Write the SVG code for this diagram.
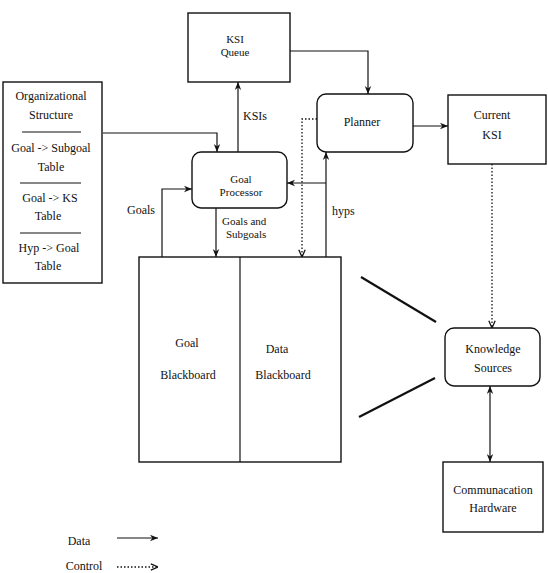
<svg xmlns="http://www.w3.org/2000/svg" width="548" height="573" viewBox="0 0 548 573">
<style>
  text { font-family: "Liberation Serif", "Times New Roman", serif; font-size: 12px; fill: #111; text-anchor: middle; }
  .tight { font-size: 11px; }
  .box { fill: #fff; stroke: #111; stroke-width: 1.4; }
  .ln { fill: none; stroke: #111; stroke-width: 1.2; }
  .dot { fill: none; stroke: #111; stroke-width: 1.3; stroke-dasharray: 1.5 2; }
  .thick { fill: none; stroke: #111; stroke-width: 2.2; }
  .sep { stroke: #111; stroke-width: 1.2; }
  .lbl { text-anchor: start; }
</style>
<defs>
  <marker id="ah" viewBox="0 0 10 10" refX="10" refY="5" markerWidth="9" markerHeight="8" markerUnits="userSpaceOnUse" orient="auto-start-reverse">
    <path d="M0,1 L10,5 L0,9 L3,5 Z" fill="#111"/>
  </marker>
  <marker id="ao" viewBox="0 0 10 10" refX="10" refY="5" markerWidth="8" markerHeight="8" markerUnits="userSpaceOnUse" orient="auto">
    <path d="M1,1 L10,5 L1,9" fill="none" stroke="#111" stroke-width="1.6"/>
  </marker>
</defs>

<g id="connectors">
  <polyline class="ln" points="103,133 217,133 217,152" marker-end="url(#ah)"/>
  <polyline class="ln" points="162,257 162,189 192,189" marker-end="url(#ah)"/>
  <line class="ln" x1="238" y1="152" x2="238" y2="82" marker-end="url(#ah)"/>
  <polyline class="ln" points="290,51 368,51 368,94" marker-end="url(#ah)"/>
  <line class="ln" x1="216" y1="208" x2="216" y2="257" marker-end="url(#ah)"/>
  <polyline class="dot" points="317,119 302,119 302,257" marker-end="url(#ao)"/>
  <line class="ln" x1="326" y1="257" x2="326" y2="152" marker-end="url(#ah)"/>
  <line class="ln" x1="326" y1="183" x2="287" y2="183" marker-end="url(#ah)"/>
  <line class="ln" x1="413" y1="126" x2="448" y2="126" marker-end="url(#ah)"/>
  <line class="dot" x1="492" y1="164" x2="492" y2="328" marker-end="url(#ao)"/>
  <line class="ln" x1="490" y1="386" x2="490" y2="462" marker-start="url(#ah)" marker-end="url(#ah)"/>
  <line class="thick" x1="361" y1="277" x2="436" y2="322"/>
  <line class="thick" x1="359" y1="417" x2="435" y2="378"/>
  <text class="lbl" x="127" y="214">Goals</text>
  <text class="lbl" x="243" y="120">KSIs</text>
  <text class="lbl tight" x="222" y="225">Goals and</text>
  <text class="lbl tight" x="226" y="238">Subgoals</text>
  <text class="lbl" x="332" y="215">hyps</text>
</g>

<g id="org-structure">
  <rect class="box" x="3" y="82" width="99" height="201"/>
  <text x="51" y="100">Organizational</text>
  <text x="51" y="119">Structure</text>
  <line class="sep" x1="22" y1="132" x2="81" y2="132"/>
  <text x="51" y="152">Goal -&gt; Subgoal</text>
  <text x="51" y="171">Table</text>
  <line class="sep" x1="20" y1="183" x2="81" y2="183"/>
  <text x="50" y="202">Goal -&gt; KS</text>
  <text x="48" y="220">Table</text>
  <line class="sep" x1="20" y1="233" x2="81" y2="233"/>
  <text x="49" y="252">Hyp -&gt; Goal</text>
  <text x="48" y="270">Table</text>
</g>

<g id="ksi-queue">
  <rect class="box" x="188" y="13" width="102" height="69"/>
  <text class="tight" x="235" y="43">KSI</text>
  <text class="tight" x="235" y="56">Queue</text>
</g>

<g id="planner">
  <rect class="box" x="317" y="94" width="96" height="58" rx="9"/>
  <text x="362" y="126">Planner</text>
</g>

<g id="goal-processor">
  <rect class="box" x="192" y="152" width="95" height="56" rx="9"/>
  <text class="tight" x="241" y="183">Goal</text>
  <text class="tight" x="241" y="196">Processor</text>
</g>

<g id="current-ksi">
  <rect class="box" x="448" y="95" width="98" height="69"/>
  <text x="492" y="119">Current</text>
  <text x="492" y="139">KSI</text>
</g>

<g id="blackboard">
  <rect class="box" x="139" y="257" width="202" height="205"/>
  <line class="sep" x1="240" y1="257" x2="240" y2="462"/>
  <text x="187" y="347">Goal</text>
  <text x="188" y="379">Blackboard</text>
  <text x="277" y="353">Data</text>
  <text x="283" y="379">Blackboard</text>
</g>

<g id="knowledge-sources">
  <rect class="box" x="445" y="328" width="95" height="58" rx="9"/>
  <text x="493" y="353">Knowledge</text>
  <text x="493" y="372">Sources</text>
</g>

<g id="comm-hardware">
  <rect class="box" x="443" y="462" width="100" height="70"/>
  <text x="493" y="494">Communacation</text>
  <text x="493" y="512">Hardware</text>
</g>

<g id="legend">
  <text x="79" y="545">Data</text>
  <line class="ln" x1="117" y1="538" x2="158" y2="538" marker-end="url(#ah)"/>
  <text x="84" y="570">Control</text>
  <line class="dot" x1="117" y1="567" x2="158" y2="567" marker-end="url(#ao)"/>
</g>
</svg>
